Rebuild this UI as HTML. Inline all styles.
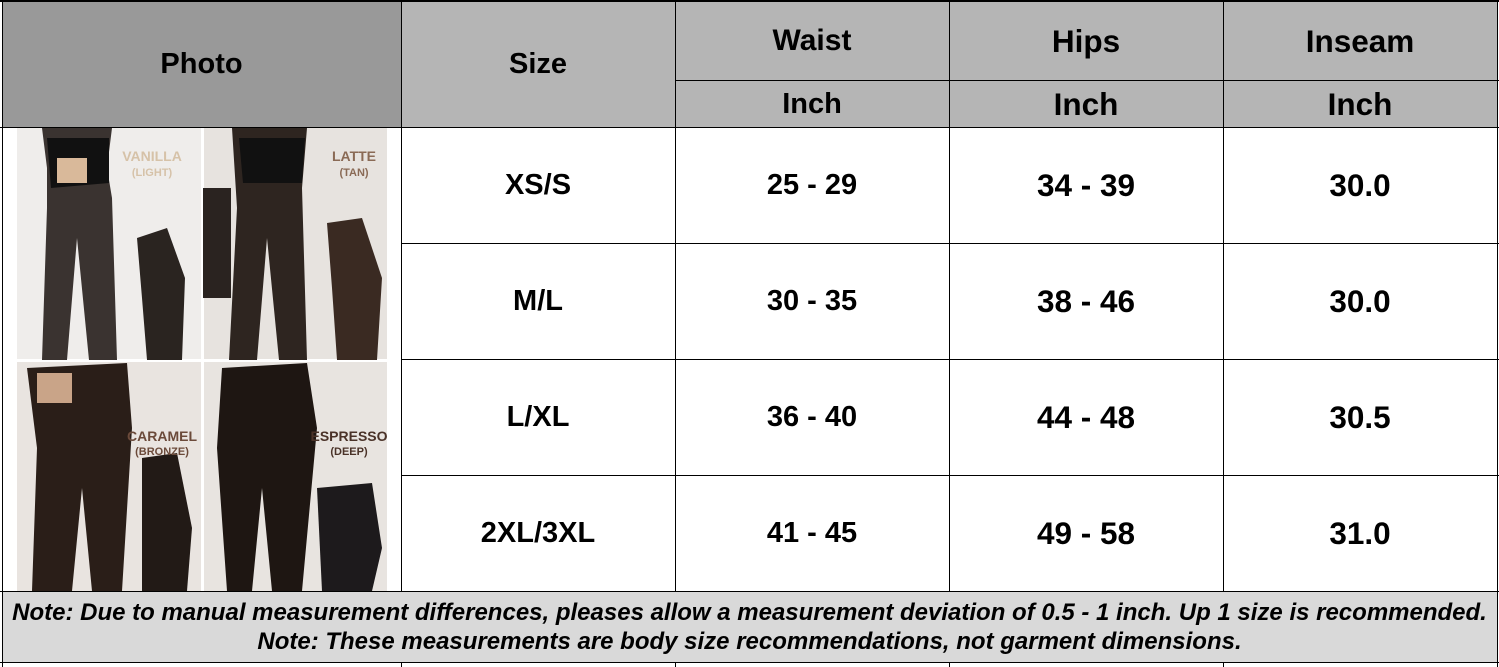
<!DOCTYPE html>
<html><head><style>
body{margin:0;width:1499px;height:667px;background:#fff;position:relative;overflow:hidden;font-family:"Liberation Sans",Arial,sans-serif;font-weight:bold;color:#000}
div{position:absolute;box-sizing:border-box}
.c{display:flex;align-items:center;justify-content:center}
.hl{background:#000}
.a{font-size:29px}
.b{font-size:31.5px}
</style></head><body>
<div style="left:2px;top:2px;width:399px;height:125px;background:#999"></div>
<div style="left:401px;top:2px;width:1096px;height:125px;background:#b5b5b5"></div>
<div style="left:2px;top:591px;width:1495px;height:71px;background:#d9d9d9"></div>
<svg style="position:absolute;left:17px;top:128px" width="370" height="463" viewBox="0 0 370 463">
<rect width="370" height="463" fill="#ece9e6"/>
<rect x="0" y="0" width="185" height="232" fill="#efedeb"/>
<rect x="186" y="0" width="184" height="232" fill="#e7e3df"/>
<rect x="0" y="233" width="185" height="230" fill="#e9e4e0"/>
<rect x="186" y="233" width="184" height="230" fill="#e8e4e0"/>
<rect x="184" y="0" width="3" height="463" fill="#fff"/>
<rect x="0" y="231" width="370" height="3" fill="#fff"/>
<path d="M25 0 L95 0 L90 40 L95 70 L100 232 L72 232 L60 110 L50 232 L25 232 L30 80 L30 40Z" fill="#3a3330"/>
<path d="M30 10 L92 10 L92 55 L34 60Z" fill="#111"/>
<rect x="40" y="30" width="30" height="25" fill="#d9b99a"/>
<path d="M120 110 L150 100 L168 150 L165 232 L130 232 L125 170Z" fill="#2a2420"/>
<text x="135" y="33" font-size="14" fill="#d6c2a8" font-family="Liberation Sans" font-weight="bold" text-anchor="middle">VANILLA</text>
<text x="135" y="48" font-size="11" fill="#d6c2a8" font-family="Liberation Sans" font-weight="bold" text-anchor="middle">(LIGHT)</text>
<path d="M215 0 L290 0 L285 60 L290 232 L262 232 L250 110 L240 232 L212 232 L220 80Z" fill="#2e2520"/>
<path d="M222 10 L288 10 L285 55 L226 55Z" fill="#111"/>
<rect x="186" y="60" width="28" height="110" fill="#2a2320"/>
<path d="M310 95 L345 90 L365 150 L360 232 L320 232 L315 160Z" fill="#3a2a22"/>
<text x="337" y="33" font-size="14" fill="#8a6a55" font-family="Liberation Sans" font-weight="bold" text-anchor="middle">LATTE</text>
<text x="337" y="48" font-size="11" fill="#8a6a55" font-family="Liberation Sans" font-weight="bold" text-anchor="middle">(TAN)</text>
<path d="M10 240 L110 235 L115 300 L105 463 L75 463 L65 360 L55 463 L15 463 L20 320Z" fill="#2a1e18"/>
<rect x="20" y="245" width="35" height="30" fill="#c9a488"/>
<path d="M125 330 L160 325 L175 400 L170 463 L125 463Z" fill="#221a16"/>
<text x="145" y="313" font-size="14" fill="#6b4a3a" font-family="Liberation Sans" font-weight="bold" text-anchor="middle">CARAMEL</text>
<text x="145" y="327" font-size="11" fill="#6b4a3a" font-family="Liberation Sans" font-weight="bold" text-anchor="middle">(BRONZE)</text>
<path d="M205 240 L290 235 L300 300 L285 463 L255 463 L245 360 L235 463 L210 463 L200 320Z" fill="#1e1612"/>
<path d="M300 360 L355 355 L365 420 L355 463 L305 463Z" fill="#1d1a1c"/>
<text x="332" y="313" font-size="14" fill="#4a3228" font-family="Liberation Sans" font-weight="bold" text-anchor="middle">ESPRESSO</text>
<text x="332" y="327" font-size="11" fill="#4a3228" font-family="Liberation Sans" font-weight="bold" text-anchor="middle">(DEEP)</text>
</svg>
<div class="hl" style="left:0;top:0;width:1499px;height:2px"></div>
<div class="hl" style="left:675px;top:80px;width:824px;height:1px"></div>
<div class="hl" style="left:0;top:127px;width:1499px;height:1px"></div>
<div class="hl" style="left:401px;top:243px;width:1098px;height:1px"></div>
<div class="hl" style="left:401px;top:359px;width:1098px;height:1px"></div>
<div class="hl" style="left:401px;top:475px;width:1098px;height:1px"></div>
<div class="hl" style="left:0;top:591px;width:1499px;height:1px"></div>
<div class="hl" style="left:0;top:662px;width:1499px;height:1px"></div>
<div class="hl" style="left:2px;top:0;width:1px;height:667px"></div>
<div class="hl" style="left:401px;top:0;width:1px;height:591px"></div>
<div class="hl" style="left:675px;top:0;width:1px;height:591px"></div>
<div class="hl" style="left:949px;top:0;width:1px;height:591px"></div>
<div class="hl" style="left:1223px;top:0;width:1px;height:591px"></div>
<div class="hl" style="left:1497px;top:0;width:1px;height:667px"></div>
<div class="hl" style="left:401px;top:662px;width:1px;height:5px"></div>
<div class="hl" style="left:675px;top:662px;width:1px;height:5px"></div>
<div class="hl" style="left:949px;top:662px;width:1px;height:5px"></div>
<div class="hl" style="left:1223px;top:662px;width:1px;height:5px"></div>
<div class="c a" style="left:2px;top:2px;width:399px;height:125px">Photo</div>
<div class="c a" style="left:401px;top:2px;width:274px;height:125px">Size</div>
<div class="c a" style="left:675px;top:2px;width:274px;height:78px;font-size:30px">Waist</div>
<div class="c b" style="left:949px;top:2px;width:274px;height:78px">Hips</div>
<div class="c b" style="left:1223px;top:2px;width:274px;height:78px">Inseam</div>
<div class="c a" style="left:675px;top:81px;width:274px;height:46px">Inch</div>
<div class="c b" style="left:949px;top:81px;width:274px;height:46px">Inch</div>
<div class="c b" style="left:1223px;top:81px;width:274px;height:46px">Inch</div>
<div class="c a" style="left:401px;top:128px;width:274px;height:115px">XS/S</div>
<div class="c a" style="left:675px;top:128px;width:274px;height:115px">25 - 29</div>
<div class="c b" style="left:949px;top:128px;width:274px;height:115px">34 - 39</div>
<div class="c b" style="left:1223px;top:128px;width:274px;height:115px">30.0</div>
<div class="c a" style="left:401px;top:244px;width:274px;height:115px">M/L</div>
<div class="c a" style="left:675px;top:244px;width:274px;height:115px">30 - 35</div>
<div class="c b" style="left:949px;top:244px;width:274px;height:115px">38 - 46</div>
<div class="c b" style="left:1223px;top:244px;width:274px;height:115px">30.0</div>
<div class="c a" style="left:401px;top:360px;width:274px;height:115px">L/XL</div>
<div class="c a" style="left:675px;top:360px;width:274px;height:115px">36 - 40</div>
<div class="c b" style="left:949px;top:360px;width:274px;height:115px">44 - 48</div>
<div class="c b" style="left:1223px;top:360px;width:274px;height:115px">30.5</div>
<div class="c a" style="left:401px;top:476px;width:274px;height:115px">2XL/3XL</div>
<div class="c a" style="left:675px;top:476px;width:274px;height:115px">41 - 45</div>
<div class="c b" style="left:949px;top:476px;width:274px;height:115px">49 - 58</div>
<div class="c b" style="left:1223px;top:476px;width:274px;height:115px">31.0</div>
<div style="left:2px;top:598px;width:1495px;text-align:center;font-size:24px;font-style:italic;line-height:29px;white-space:nowrap">Note: Due to manual measurement differences, pleases allow a measurement deviation of 0.5 - 1 inch. Up 1 size is recommended.<br>Note: These measurements are body size recommendations, not garment dimensions.</div>
</body></html>
